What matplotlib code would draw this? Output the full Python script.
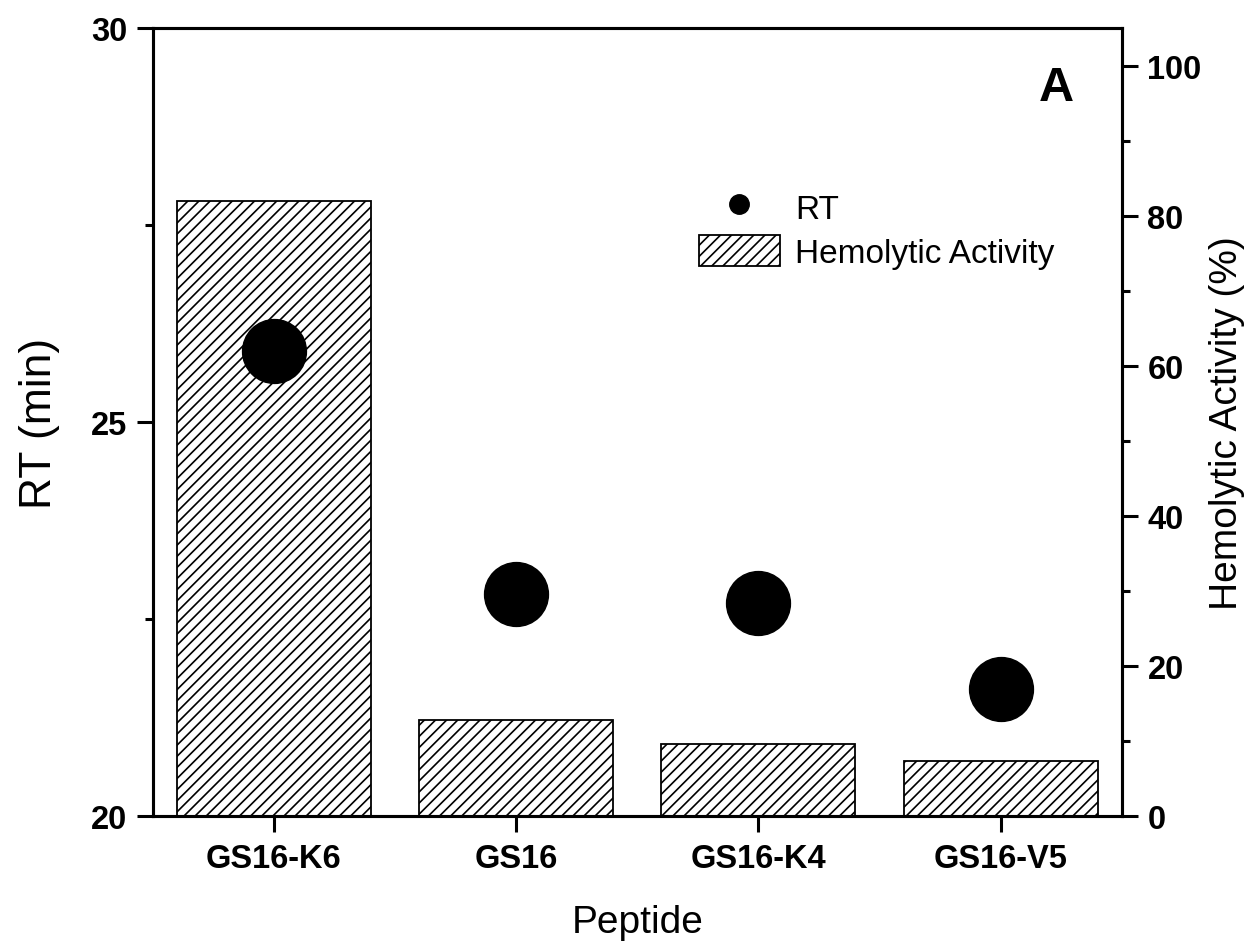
import matplotlib
matplotlib.use("Agg")
import matplotlib.pyplot as plt
from matplotlib.lines import Line2D
from matplotlib.patches import Patch

peptides = ["GS16-K6", "GS16", "GS16-K4", "GS16-V5"]
rt_min = [25.90, 22.82, 22.70, 21.61]
hemolytic = [82.0, 12.7, 9.6, 7.3]

plt.rcParams['font.family'] = ['Liberation Sans', 'DejaVu Sans']
plt.rcParams['hatch.linewidth'] = 1.2
plt.rcParams['hatch.color'] = 'black'

fig = plt.figure(figsize=(12.52, 9.45), dpi=100)
ax1 = fig.add_axes([0.122, 0.1358, 0.774, 0.8332])
ax2 = ax1.twinx()

x = list(range(len(peptides)))
ax2.bar(x, hemolytic, width=0.8, facecolor='white', edgecolor='black',
        linewidth=1.3, hatch='///', zorder=2)
ax1.plot(x, rt_min, ls='', marker='o', markersize=46, color='black', zorder=5)

ax1.set_zorder(ax2.get_zorder() + 1)
ax1.patch.set_visible(False)

ax1.set_xlim(-0.5, 3.5)
ax1.set_ylim(20, 30)
ax2.set_ylim(0, 105)

ax1.set_xticks(x)
ax1.set_xticklabels(peptides)
ax1.set_yticks([20, 25, 30])
ax1.set_yticks([22.5, 27.5], minor=True)
ax2.set_yticks([0, 20, 40, 60, 80, 100])
ax2.set_yticks([10, 30, 50, 70, 90], minor=True)

for ax in (ax1, ax2):
    for sp in ax.spines.values():
        sp.set_linewidth(2.2)
    ax.tick_params(which='major', direction='out', length=11.5, width=2.2,
                   labelsize=23.5, pad=7)
    ax.tick_params(which='minor', direction='out', length=6, width=2.2)

ax1.tick_params(axis='x', which='both', bottom=True, top=False, pad=8)
ax1.tick_params(axis='y', which='both', left=True, right=False)
ax2.tick_params(axis='y', which='both', right=True, left=False)

for lab in ax1.get_xticklabels() + ax1.get_yticklabels() + ax2.get_yticklabels():
    lab.set_fontweight('bold')

ax1.set_xlabel("Peptide", fontsize=28, labelpad=22)
ax1.set_ylabel("RT (min)", fontsize=32, labelpad=22)
ax2.set_ylabel("Hemolytic Activity (%)", fontsize=28, labelpad=5)

ax1.text(0.932, 0.925, "A", transform=ax1.transAxes, fontsize=35,
         fontweight='bold', ha='center', va='center')

handles = [Line2D([], [], ls='', marker='o', markersize=14, color='black'),
           Patch(facecolor='white', edgecolor='black', hatch='///', linewidth=1.3)]
ax1.legend(handles, ["RT", "Hemolytic Activity"], loc='upper left',
           bbox_to_anchor=(0.558, 0.797), bbox_transform=fig.transFigure,
           frameon=False, fontsize=24, borderpad=0, borderaxespad=0,
           handlelength=2.45, handleheight=1.05, handletextpad=0.45,
           labelspacing=0.3)

fig.savefig("out.png", dpi=100)
